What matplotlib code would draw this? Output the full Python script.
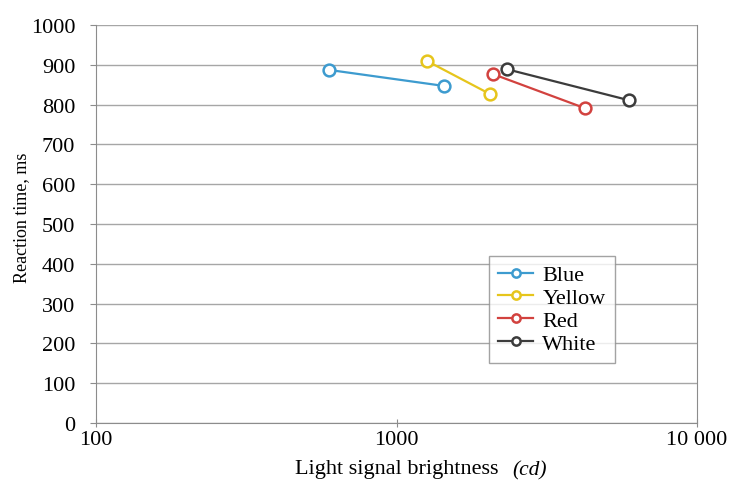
import matplotlib.pyplot as plt
from matplotlib.ticker import FixedLocator, FixedFormatter, NullLocator

# series: (brightness cd, reaction time ms)
blue_x = [598, 1435]
blue_y = [887, 847]
yellow_x = [1268, 2041]
yellow_y = [909, 827]
red_x = [2089, 4236]
red_y = [877, 791]
white_x = [2327, 5933]
white_y = [889, 811]

x_ticks = [100, 1000, 10000]
x_tick_labels = ['100', '1000', '10 000']
y_ticks = list(range(0, 1001, 100))

plt.rcParams['font.family'] = ['Liberation Serif', 'DejaVu Serif']

fig = plt.figure(figsize=(7.35, 4.81), dpi=100)
ax = fig.add_axes([96 / 735, 1 - 424 / 481, 601 / 735, 398 / 481])

series = [
    ('Blue', blue_x, blue_y, '#3d9bcf'),
    ('Yellow', yellow_x, yellow_y, '#e6c51c'),
    ('Red', red_x, red_y, '#d2423f'),
    ('White', white_x, white_y, '#3c3c3c'),
]
for name, xs, ys, col in series:
    ax.plot(xs, ys, color=col, lw=1.6, marker='o', ms=8.5, mfc='white',
            mec=col, mew=1.8, label=name)

ax.set_xscale('log')
ax.set_xlim(100, 10000)
ax.set_ylim(0, 1000)
ax.xaxis.set_major_locator(FixedLocator(x_ticks))
ax.xaxis.set_major_formatter(FixedFormatter(x_tick_labels))
ax.xaxis.set_minor_locator(NullLocator())
ax.set_yticks(y_ticks)

ax.grid(axis='y', color='#a6a6a6', lw=1)
ax.set_axisbelow(True)
for s in ['left', 'bottom', 'right']:
    ax.spines[s].set_color('#8c8c8c')
ax.spines['top'].set_visible(False)
ax.tick_params(axis='both', colors='#8c8c8c', labelcolor='black', labelsize=16)
ax.tick_params(axis='x', direction='inout', length=6, pad=2)
ax.tick_params(axis='y', length=4, pad=11)

ax.set_ylabel('Reaction time, ms', fontsize=13)
ax.yaxis.set_label_coords(-0.11, 0.518)
fig.text(295 / 735, 7 / 481, 'Light signal brightness', fontsize=16,
         ha='left', va='baseline')
fig.text(512 / 735, 6 / 481, '(cd)', fontsize=15.5, style='italic',
         ha='left', va='baseline')

leg = ax.legend(loc='upper left', bbox_to_anchor=(0.654, 0.42), fontsize=16,
                frameon=True, fancybox=False, edgecolor='#8c8c8c',
                handlelength=1.6, handletextpad=0.4, labelspacing=0.1,
                borderpad=0.4, borderaxespad=0, markerscale=0.7)
leg.get_frame().set_linewidth(1)

fig.savefig('out.png', dpi=100)
